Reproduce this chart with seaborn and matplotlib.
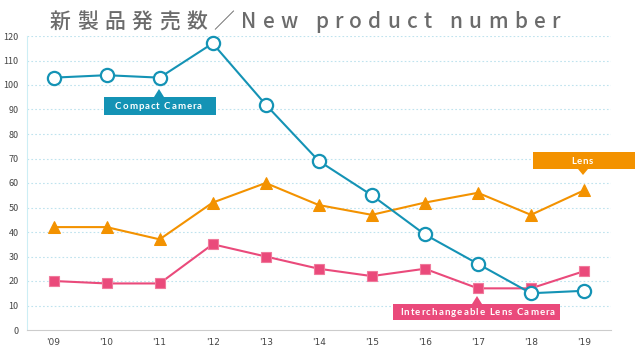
import numpy as np
import pandas as pd
import matplotlib
matplotlib.use("Agg")
import matplotlib.pyplot as plt
import seaborn as sns
from matplotlib.patches import Rectangle, Polygon

years = ["'09", "'10", "'11", "'12", "'13", "'14", "'15", "'16", "'17", "'18", "'19"]
compact = [103, 104, 103, 117, 92, 69, 55, 39, 27, 15, 16]
lens = [42, 42, 37, 52, 60, 51, 47, 52, 56, 47, 57]
ilc = [20, 19, 19, 35, 30, 25, 22, 25, 17, 17, 24]
yticks = list(range(0, 121, 10))
title = "新製品発売数／New product number"

C_TEAL = "#1493b5"
C_ORANGE = "#f39200"
C_PINK = "#ea4a7b"

sns.set_theme(style="white")
plt.rcParams['font.family'] = ['Noto Sans CJK JP', 'DejaVu Sans']

W, H = 640, 348
fig = plt.figure(figsize=(6.4, 3.48), dpi=100)
ax = fig.add_axes([27 / W, 1 - 330 / H, (610.5 - 27) / W, (330 - 36) / H])

idx = np.arange(len(years))
df = pd.DataFrame({"x": idx, "compact": compact, "lens": lens, "ilc": ilc})

sns.lineplot(data=df, x="x", y="lens", ax=ax, color=C_ORANGE, lw=1.5,
             marker="^", markersize=8.5, markeredgecolor=C_ORANGE, markerfacecolor=C_ORANGE,
             clip_on=False, zorder=3)
sns.lineplot(data=df, x="x", y="ilc", ax=ax, color=C_PINK, lw=1.5,
             marker="s", markersize=7.5, markeredgecolor="#f07a9c", markeredgewidth=0.8,
             markerfacecolor=C_PINK, clip_on=False, zorder=4)
sns.lineplot(data=df, x="x", y="compact", ax=ax, color=C_TEAL, lw=1.5,
             marker="o", markersize=9.5, markeredgecolor=C_TEAL, markeredgewidth=1.6,
             markerfacecolor="white", clip_on=False, zorder=5)

ax.set_xlim(-0.5, len(years) - 0.5)
ax.set_ylim(0, 120)
ax.set_xlabel("")
ax.set_ylabel("")
ax.set_yticks(yticks)
ax.set_yticklabels([str(v) for v in yticks], fontsize=6.5, color="#444444")
ax.set_xticks(idx)
ax.set_xticklabels(years, fontsize=6.5, color="#444444", family="DejaVu Sans")
ax.set_xticks(np.arange(-0.5, len(years), 1), minor=True)
ax.tick_params(axis="x", which="major", length=0, pad=6)
ax.tick_params(axis="x", which="minor", length=3, color="#cccccc", width=0.8, direction="out")
ax.tick_params(axis="y", length=0, pad=6)
for v in yticks[1:]:
    ax.axhline(v, color="#bfe3ee", lw=0.8, ls=(0, (1.5, 2)), zorder=0)
for s in ["top", "right"]:
    ax.spines[s].set_visible(False)
ax.spines["left"].set_color("#cdeef5")
ax.spines["left"].set_linewidth(0.8)
ax.spines["bottom"].set_color("#cccccc")
ax.spines["bottom"].set_linewidth(0.8)
ax.grid(False)

fig.canvas.draw()
renderer = fig.canvas.get_renderer()


def spaced_text(x0, x1, ybase, s, size, color, weight="normal", family=None, space=0.3):
    # draw characters one by one, letter-spaced to fill [x0, x1] (pixel coordinates)
    items = []
    widths = 0.0
    for ch in s:
        if ch == " ":
            items.append((None, size * space))
            widths += size * space
            continue
        kw = {} if family is None else {"family": family}
        t = fig.text(0, 0, ch, fontsize=size, color=color, weight=weight,
                     ha="left", va="baseline", transform=None, zorder=20, **kw)
        w = t.get_window_extent(renderer).width
        items.append((t, w))
        widths += w
    gap = (x1 - x0 - widths) / (len(s) - 1)
    x = x0
    for t, w in items:
        if t is not None:
            t.set_position((x, H - ybase))
        x += w + gap


# title
spaced_text(50, 560, 28, title, 15, "#6b6b6b", weight="medium")


# annotation boxes (pixel coordinates)
def callout(x0, x1, y0, y1, tipx, tipy, color, label, tx0, tx1):
    rect = Rectangle((x0, H - y1), x1 - x0, y1 - y0, facecolor=color,
                     edgecolor="none", transform=None, zorder=10)
    fig.patches.append(rect)
    if tipy < y0:
        tri = [(tipx - 5, H - y0), (tipx + 5, H - y0), (tipx, H - tipy)]
    else:
        tri = [(tipx - 5, H - y1), (tipx + 5, H - y1), (tipx, H - tipy)]
    poly = Polygon(tri, closed=True, facecolor=color, edgecolor="none",
                   transform=None, zorder=10)
    fig.patches.append(poly)
    spaced_text(tx0, tx1, (y0 + y1) / 2 + 3.2, label, 6.9, "white", weight="bold",
                family="Lato", space=0.35)


callout(104, 216, 97, 115, 159, 89, C_TEAL, "Compact Camera", 115, 202)
callout(533, 635, 152, 169, 583, 175, C_ORANGE, "Lens", 571, 593)
callout(393, 560, 304, 320, 477, 296, C_PINK, "Interchangeable Lens Camera", 400, 555)

fig.savefig("out.png", dpi=100)
